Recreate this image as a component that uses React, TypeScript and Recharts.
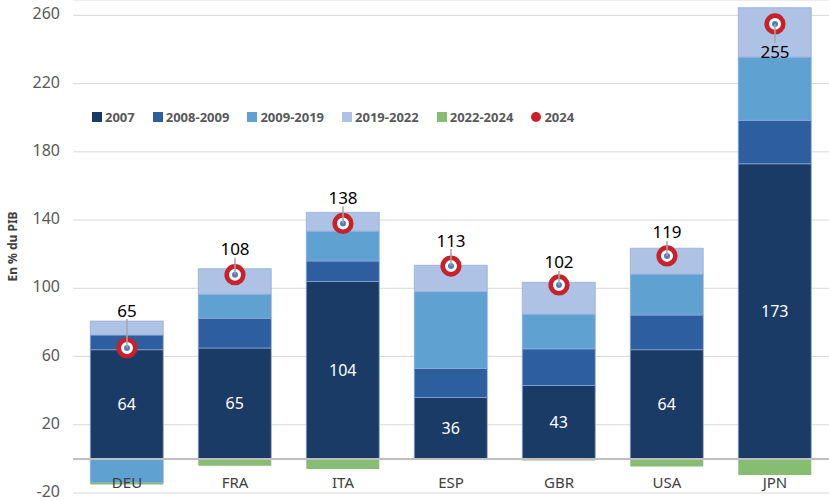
import React from 'react';
import {
  ComposedChart,
  Bar,
  Line,
  XAxis,
  YAxis,
  CartesianGrid,
  ReferenceLine,
  LabelList,
} from 'recharts';

// Debt in % of GDP, decomposition by period
const countries = ['DEU', 'FRA', 'ITA', 'ESP', 'GBR', 'USA', 'JPN'];
const debt2007 = [64, 65, 104, 36, 43, 64, 173];
const chg2008_2009 = [8.6, 17.5, 12, 17, 21.5, 20.3, 25.5];
const chg2009_2019 = [-14, 14, 17.5, 45, 20.3, 24, 37];
const chg2019_2022 = [8.2, 15, 11, 15.5, 18.7, 15.2, 29];
const chg2022_2024 = [-1, -4, -6, 0, -1, -4.5, -9.5];
const debt2024 = [65, 108, 138, 113, 102, 119, 255];
const yTicks = [-20, 20, 60, 100, 140, 180, 220, 260];

const seriesNames = ['2007', '2008-2009', '2009-2019', '2019-2022', '2022-2024', '2024'];
const COLORS = ['#1a3b66', '#2d5f9e', '#5fa1d1', '#adc2e4', '#86bd72', '#c9202a'];

const data = countries.map((c, i) => ({
  country: c,
  v2007: debt2007[i],
  v0809: chg2008_2009[i],
  v0919: chg2009_2019[i],
  v1922: chg2019_2022[i],
  v2224: chg2022_2024[i],
  v2024: debt2024[i],
}));

const FONT = '"Noto Sans", sans-serif';
// vertical offset of the 2024 labels from their marker
const LABEL_DY = [-38, -26, -26, -26, -23, -24, 28];

const Marker = (props: any) => {
  const { cx, cy, index } = props;
  if (cx == null || cy == null) return null;
  return (
    <g key={`m-${index}`}>
      <circle cx={cx} cy={cy} r={8.3} fill="#ffffff" stroke={COLORS[5]} strokeWidth={4.6} />
      <circle cx={cx} cy={cy} r={3} fill="#4a7fc6" />
    </g>
  );
};

const MarkerLabel = (props: any) => {
  const { x, y, value, index } = props;
  const dy = LABEL_DY[index] ?? -26;
  const end = dy < 0 ? y + dy + 9 : y + dy - 9;
  return (
    <g>
      <line x1={x} y1={y} x2={x} y2={end} stroke="#a6a6a6" strokeWidth={1.5} />
      <text
        x={x}
        y={y + dy}
        textAnchor="middle"
        dominantBaseline="central"
        fontSize={17}
        fontFamily={FONT}
        fill="#000"
      >
        {value}
      </text>
    </g>
  );
};

const CountryTick = (props: any) => {
  const { x, y, payload } = props;
  return (
    <text
      x={x}
      y={y - 11}
      textAnchor="middle"
      dominantBaseline="central"
      fontSize={15}
      fontFamily={FONT}
      fill="#404040"
    >
      {payload.value}
    </text>
  );
};

const ValueTick = (props: any) => {
  const { x, y, payload } = props;
  return (
    <text
      x={x}
      y={y - 2}
      textAnchor="end"
      dominantBaseline="central"
      fontSize={16}
      fontFamily={FONT}
      fill="#595959"
    >
      {payload.value}
    </text>
  );
};

const AxisTitle = (props: any) => {
  const { viewBox } = props;
  const cy = viewBox.y + viewBox.height / 2;
  return (
    <text
      x={12}
      y={cy}
      transform={`rotate(-90, 12, ${cy})`}
      textAnchor="middle"
      dominantBaseline="central"
      fontSize={12}
      fontWeight="bold"
      fontFamily={FONT}
      fill="#404040"
    >
      En % du PIB
    </text>
  );
};

const ChartLegend = () => (
  <div
    style={{
      position: 'absolute',
      top: 108,
      left: 92,
      display: 'flex',
      gap: 18,
      fontFamily: FONT,
      fontSize: 13,
      fontWeight: 'bold',
      color: '#595959',
    }}
  >
    {seriesNames.map((name, i) => (
      <div key={name} style={{ display: 'flex', alignItems: 'center', gap: 3 }}>
        <span
          style={{
            display: 'inline-block',
            width: 10,
            height: 10,
            background: COLORS[i],
            borderRadius: i === 5 ? '50%' : 0,
          }}
        />
        <span>{name}</span>
      </div>
    ))}
  </div>
);

const barStroke = { stroke: '#8faadc', strokeOpacity: 0.7, strokeWidth: 1 };

export default function App() {
  return (
    <div style={{ position: 'absolute', left: 0, top: 0, width: 829, height: 501, background: '#fff' }}>
      <ComposedChart
        width={829}
        height={501}
        data={data}
        stackOffset="sign"
        barCategoryGap="16%"
        margin={{ top: 0, right: 0, left: 0, bottom: 7 }}
      >
        <CartesianGrid vertical={false} stroke="#d9d9d9" />
        <XAxis
          dataKey="country"
          axisLine={false}
          tickLine={false}
          tickSize={0}
          tickMargin={0}
          height={1}
          tick={<CountryTick />}
          interval={0}
        />
        <YAxis
          width={73}
          domain={[-20, 269]}
          ticks={yTicks}
          interval={0}
          axisLine={false}
          tickLine={false}
          tickMargin={7}
          tick={<ValueTick />}
          label={<AxisTitle />}
        />
        <ReferenceLine y={0} stroke="#bfbfbf" strokeWidth={2} />
        <Bar dataKey="v2007" stackId="a" fill={COLORS[0]} {...barStroke} isAnimationActive={false}>
          <LabelList dataKey="v2007" position="center" fill="#ffffff" fontSize={16} fontFamily={FONT} />
        </Bar>
        <Bar dataKey="v0809" stackId="a" fill={COLORS[1]} {...barStroke} isAnimationActive={false} />
        <Bar dataKey="v0919" stackId="a" fill={COLORS[2]} {...barStroke} isAnimationActive={false} />
        <Bar dataKey="v1922" stackId="a" fill={COLORS[3]} {...barStroke} isAnimationActive={false} />
        <Bar dataKey="v2224" stackId="a" fill={COLORS[4]} isAnimationActive={false} />
        <Line
          dataKey="v2024"
          stroke="none"
          dot={<Marker />}
          activeDot={false}
          isAnimationActive={false}
        >
          <LabelList dataKey="v2024" content={<MarkerLabel />} />
        </Line>
      </ComposedChart>
      <ChartLegend />
    </div>
  );
}
